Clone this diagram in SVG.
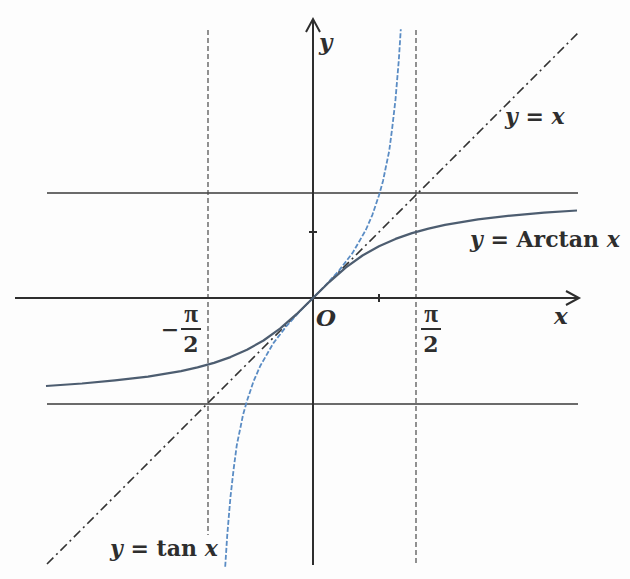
<svg xmlns="http://www.w3.org/2000/svg" width="630" height="579" viewBox="0 0 630 579">
<style>
.axis{stroke:#2e2e2e;stroke-width:2;fill:none}
.asym{stroke:#3a3a3a;stroke-width:1.3;fill:none}
.vdash{stroke:#4a4a4a;stroke-width:1.2;stroke-dasharray:5,3;fill:none}
.diag{stroke:#333;stroke-width:1.6;stroke-dasharray:9,4,2,4;fill:none}
.tan{stroke:#5a8cc4;stroke-width:1.8;stroke-dasharray:5,2;fill:none;stroke-linejoin:round}
.atan{stroke:#4d5d70;stroke-width:2.2;fill:none;stroke-linejoin:round}
text{font-family:"DejaVu Serif","Liberation Serif",serif;font-weight:bold;fill:#2e2e2e}
.it{font-style:italic}
.pi{font-family:"Liberation Serif",serif;font-size:25px}
</style>
<rect width="630" height="579" fill="#fdfdfd"/>
<g id="asymptotes">
<line class="asym" x1="47" y1="193" x2="578" y2="193"/>
<line class="asym" x1="47" y1="404" x2="578" y2="404"/>
<line class="vdash" x1="208" y1="30" x2="208" y2="535"/>
<line class="vdash" x1="416" y1="30" x2="416" y2="565"/>
</g>
<g id="axes">
<line class="axis" x1="15" y1="298" x2="579" y2="298"/>
<polyline class="axis" points="566,291 579,298 566,305"/>
<line class="axis" x1="313" y1="565" x2="313" y2="19"/>
<polyline class="axis" points="306,32 313,19 320,32"/>
<line class="axis" x1="309" y1="232" x2="317" y2="232"/>
<line class="axis" x1="379" y1="294" x2="379" y2="302"/>
</g>
<g id="connectors">
<line class="diag" x1="47" y1="564" x2="580" y2="31"/>
<polyline class="tan" points="225.2,566.8 227.2,535.7 230.5,496.6 233.8,467.8 236.8,445 240.4,427.7 243,415 247,400.8 253.6,381.2 260.2,366 273.4,343.1 286.6,325.9 299.8,311.4 313,298 326.2,284.6 339.4,270.1 352.6,252.9 365.8,230 372.4,214.8 379,195.2 383,181 385.6,168.3 389.2,151 392.2,128.2 395.5,99.4 398.8,60.3 400.8,29.2"/>
<polyline class="atan" points="46,386 82,383.5 115,380.4 148,376.6 181,371.1 197.5,367.4 214,362.9 230.5,357.1 247,349.8 263.5,340.5 280,328.6 296.5,314.2 313,298 329.5,281.8 346,267.4 362.5,255.5 379,246.2 395.5,238.9 412,233.1 428.5,228.6 445,224.9 478,219.4 511,215.6 544,212.7 577,210.5"/>
</g>
<g id="labels">
<text class="it" x="319" y="50" font-size="23">y</text>
<text x="505" y="124" font-size="22"><tspan class="it">y</tspan> = <tspan class="it">x</tspan></text>
<text x="470" y="247" font-size="22"><tspan class="it">y</tspan> = Arctan <tspan class="it">x</tspan></text>
<text class="it" x="316" y="326" font-size="23">O</text>
<text class="it" x="554" y="324" font-size="23">x</text>
<text class="pi" x="431" y="322" text-anchor="middle">π</text>
<line x1="421" y1="329" x2="441" y2="329" stroke="#2e2e2e" stroke-width="2"/>
<text x="431" y="352" font-size="22" text-anchor="middle">2</text>
<text x="170" y="337" font-size="22" text-anchor="middle">−</text>
<text class="pi" x="191" y="322" text-anchor="middle">π</text>
<line x1="181" y1="329" x2="201" y2="329" stroke="#2e2e2e" stroke-width="2"/>
<text x="191" y="352" font-size="22" text-anchor="middle">2</text>
<text x="110" y="556" font-size="22"><tspan class="it">y</tspan> = tan <tspan class="it">x</tspan></text>
</g>
</svg>
